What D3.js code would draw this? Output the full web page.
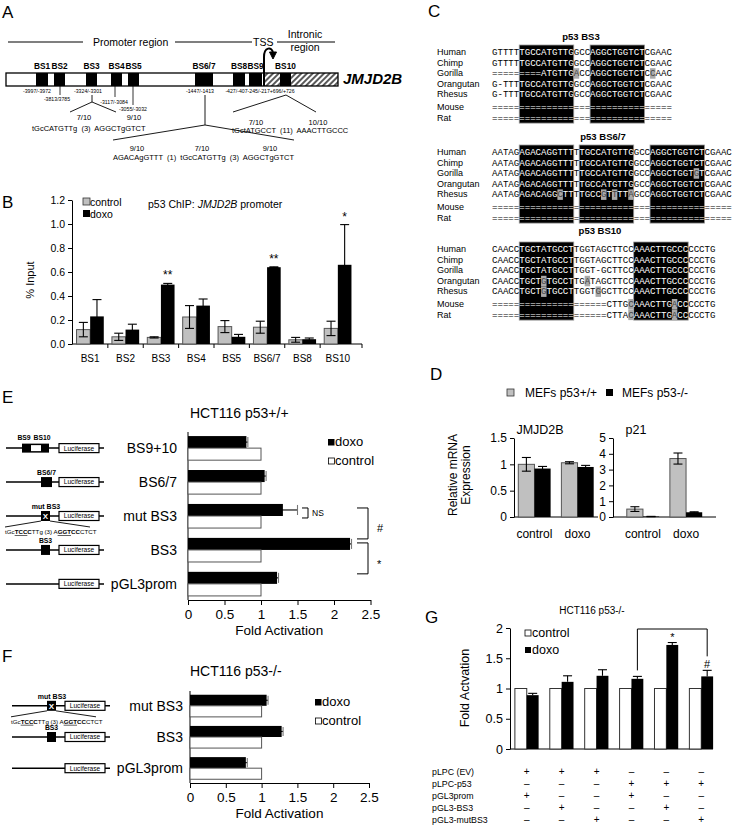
<!DOCTYPE html>
<html><head><meta charset="utf-8">
<script src="https://cdn.jsdelivr.net/npm/d3@7"></script>
<style>body{margin:0;background:#fff}svg{display:block}</style>
</head><body><svg id="fig" width="733" height="826"></svg>
<script>
// ================= DATA =================
// Panel A (schematic)
const siteNames = ["BS1","BS2","BS3","BS4","BS5","BS6/7","BS8","BS9","BS10"];
const siteCoordLabels = ["-3997/-3972","-3813/3785","-3324/-3301","-3117/-3084","-3055/-3032","-1447/-1413","-427/-407-245/-217+696/+726"];
// Panel B
const chipSites = ["BS1","BS2","BS3","BS4","BS5","BS6/7","BS8","BS10"];
const chipControl = [0.12,0.06,0.055,0.225,0.145,0.14,0.035,0.13];
const chipControlErr = [0.06,0.03,0.005,0.095,0.05,0.05,0.02,0.06];
const chipDoxo = [0.23,0.12,0.495,0.32,0.06,0.64,0.04,0.66];
const chipDoxoErr = [0.14,0.045,0.01,0.055,0.02,0.003,0.01,0.335];
const chipStars = ["","","**","","","**","","*"];
const chipTicks = [0,0.2,0.4,0.6,0.8,1.0,1.2];
// Panel C
const species = ["Human","Chimp","Gorilla","Orangutan","Rhesus","Mouse","Rat"];
const bs3Seqs = ["GTTTTTGCCATGTTGGCCAGGCTGGTCTCGAAC","GTTTTTGCCATGTTGGCCAGGCTGGTCTCGAAC","=========ATGTTGACCAGGCTGGTCTCCAAC","G-TTTTGCCATGTTGGCCAGGCTGGTCTCGAAC","G-TTTTGCCATGTTGGCCAGGCTGGTCTCGAAC","=".repeat(33),"=".repeat(33)];
const bs3Boxes = [[5,14],[18,27]];
const bs3Diffs = [[],[],[15,29],[],[],[],[]];
const bs67Seqs = ["AATAGAGACAGGTTTTTGCCATGTTGGCCAGGCTGGTCTCGAAC","AATAGAGACAGGTTTTTGCCATGTTGGCCAGGCTGGTCTCGAAC","AATAGAGACAGGTTTTTGCCATGTTGGCCAGGCTGGTGTCGAAC","AATAGAGACAGGTTTTTGCCATGTTGGCCAGGCTGGTCTCGAAC","AATAGAGACAGGCTTTTGCCGTTTTAGCCAGGCTGGTCTCGAAC","=".repeat(44),"=".repeat(44)];
const bs67Boxes = [[5,14],[16,25],[29,38]];
const bs67Diffs = [[],[],[37],[],[12,20,22,25],[],[]];
const bs10Seqs = ["CAACCTGCTATGCCTTGGTAGCTTCCAAACTTGCCCCCCTG","CAACCTGCTATGCCTTGGTAGCTTCCAAACTTGCCCCCCTG","CAACCTGCTATGCCTTGGT-GCTTCCAAACTTGCCCCCCTG","CAACCTGCTGTGCCTTGATAGCTTCCAAACTTGCCCCCCTG","CAACCTGCTGTGCCTTGGTGGCTTCCAAACTTGCCCCCCTG","=".repeat(21)+"CTTGCAAACTTGACCCCCTG","=".repeat(21)+"CTTACAAACTTGACCCCCTG"];
const bs10Boxes = [[5,14],[26,35]];
const bs10Diffs = [[],[],[],[9,17],[9,19],[25,33],[25,33]];
// Panel D
const mefConditions = ["control","doxo"];
const jmjWT = [1.0,1.03], jmjWTErr = [0.13,0.02];
const jmjKO = [0.92,0.95], jmjKOErr = [0.04,0.03];
const p21WT = [0.5,3.7], p21WTErr = [0.15,0.35];
const p21KO = [0.03,0.3], p21KOErr = [0.01,0.03];
const jmjTicks = [0,0.5,1,1.5], p21Ticks = [0,1,2,3,4,5];
// Panel E
const lucE = ["BS9+10","BS6/7","mut BS3","BS3","pGL3prom"];
const lucEDoxo = [0.8,1.05,1.3,2.22,1.22];
const lucEDoxoErr = [0.02,0.02,0.2,0.02,0.02];
const lucEControl = [1,1,1,1,1];
const foldTicks = [0,0.5,1,1.5,2,2.5];
// Panel F
const lucF = ["mut BS3","BS3","pGL3prom"];
const lucFDoxo = [1.07,1.28,0.78];
const lucFDoxoErr = [0.02,0.02,0.02];
const lucFControl = [1,1,1];
// Panel G
const gGroups = ["g1","g2","g3","g4","g5","g6"];
const gControl = [1,1,1,1,1,1];
const gDoxo = [0.89,1.11,1.21,1.16,1.72,1.2];
const gDoxoErr = [0.03,0.1,0.1,0.04,0.04,0.1];
const gTicks = [0,0.5,1,1.5,2];
const gRows = ["pLPC (EV)","pLPC-p53","pGL3prom","pGL3-BS3","pGL3-mutBS3"];
const gSigns = [["+","+","+","\u2013","\u2013","\u2013"],["\u2013","\u2013","\u2013","+","+","+"],["+","\u2013","\u2013","+","\u2013","\u2013"],["\u2013","+","\u2013","\u2013","+","\u2013"],["\u2013","\u2013","+","\u2013","\u2013","+"]];

// ================= DRAW =================
const FONT = '"Liberation Sans", Arial, sans-serif';
const MONO = '"Liberation Mono", "Courier New", monospace';
const svg = d3.select("#fig").attr("font-family", FONT);
svg.append("rect").attr("width",733).attr("height",826).attr("fill","#fff");

function T(g,x,y,s,o={}){
  const t=g.append("text").attr("x",x).attr("y",y).text(s).attr("font-size",o.size||10).attr("fill",o.fill||"#000");
  if(o.anchor) t.attr("text-anchor",o.anchor);
  if(o.weight) t.attr("font-weight",o.weight);
  if(o.style) t.attr("font-style",o.style);
  if(o.family) t.attr("font-family",o.family);
  if(o.rotate!==undefined) t.attr("transform",`rotate(${o.rotate},${x},${y})`);
  return t;
}
function L(g,x1,y1,x2,y2,w=1,c="#000"){return g.append("line").attr("x1",x1).attr("y1",y1).attr("x2",x2).attr("y2",y2).attr("stroke",c).attr("stroke-width",w);}
function R(g,x,y,w,h,fill,stroke,sw=1){const r=g.append("rect").attr("x",x).attr("y",y).attr("width",w).attr("height",h).attr("fill",fill);if(stroke)r.attr("stroke",stroke).attr("stroke-width",sw);return r;}
function P(g,d,w=1,c="#000",fill="none"){return g.append("path").attr("d",d).attr("stroke",c).attr("stroke-width",w).attr("fill",fill);}
function styleAxis(g,size){g.selectAll("text").attr("font-family",FONT).attr("font-size",size).attr("fill","#000");g.selectAll("line,path").attr("stroke","#000");}

// panel letters
[["A",2,18],["B",2,208],["C",428,17],["D",430,380],["E",2,403],["F",2,662],["G",425,623]].forEach(([s,x,y])=>T(svg,x,y,s,{size:17}));

// ---------- Panel A ----------
const gA = svg.append("g");
const defs = svg.append("defs");
const pat = defs.append("pattern").attr("id","hatch").attr("patternUnits","userSpaceOnUse").attr("width",4).attr("height",4).attr("patternTransform","rotate(45)");
pat.append("rect").attr("width",4).attr("height",4).attr("fill","#fff");
pat.append("line").attr("x1",1).attr("y1",0).attr("x2",1).attr("y2",4).attr("stroke","#000").attr("stroke-width",1.3);
L(gA,8,42,83,42,1.2); T(gA,93,46,"Promoter region",{size:10.5});
L(gA,175,42,252,42,1.2); T(gA,253,46,"TSS",{size:10.5});
L(gA,277,42,335,42,1.2); T(gA,305,38,"Intronic",{size:10.5,anchor:"middle"}); T(gA,305,51,"region",{size:10.5,anchor:"middle"});
const geneY=73, geneH=13;
R(gA,6,geneY,332,geneH,"#fff");
R(gA,264,geneY,74,geneH,"url(#hatch)");
const siteBoxX = [[36,48],[54,65],[86,97],[111,122],[128,139],[195,213],[233,245],[249,262],[280,291]];
siteNames.forEach((n,i)=>{const [a,b]=siteBoxX[i];R(gA,a,geneY,b-a,geneH,"#000");T(gA,(a+b)/2,69,n,{size:8.3,weight:"bold",anchor:"middle"});});
R(gA,6,geneY,332,geneH,"none","#000",1.3);
T(gA,343,84,"JMJD2B",{size:15,weight:"bold",style:"italic"});
// TSS arrow
P(gA,"M264,86 V57 C264,47 272,46 273,53",2);
P(gA,"M269.5,52 L276.5,52 L273,59 Z",1,"#000","#000");
// coordinate labels
const coordPos=[[37,93],[57,101],[88,93],[114,104],[133,111],[200,93],[260,93]];
siteCoordLabels.forEach((s,i)=>T(gA,coordPos[i][0],coordPos[i][1],s,{size:5.2,anchor:"middle"}));
L(gA,60,86,60,95,0.8); L(gA,115,86,115,97,0.8); L(gA,133,86,133,105,0.8);
// trees
const tw=0.9;
L(gA,92,95,92,102,tw); L(gA,92,102,70,112,tw); L(gA,92,102,116,112,tw);
T(gA,84,120,"7/10",{size:7.5,anchor:"middle"}); T(gA,134,120,"9/10",{size:7.5,anchor:"middle"});
T(gA,32,131,"tGcCATGTTg  (3)  AGGCTgGTCT",{size:7.5}).style("white-space","pre");
L(gA,205,95,205,125,tw); L(gA,205,125,113,140,tw); L(gA,205,125,294,140,tw);
T(gA,137,151,"9/10",{size:7.5,anchor:"middle"}); T(gA,202,151,"7/10",{size:7.5,anchor:"middle"}); T(gA,270,151,"9/10",{size:7.5,anchor:"middle"});
T(gA,113,160,"AGACAgGTTT  (1)  tGcCATGTTg  (3)  AGGCTgGTCT",{size:7.5}).style("white-space","pre");
L(gA,286,95,233,112,tw); L(gA,286,95,316,112,tw);
T(gA,256,125,"7/10",{size:7.5,anchor:"middle"}); T(gA,318,125,"10/10",{size:7.5,anchor:"middle"});
T(gA,232,133,"tGctATGCCT  (11)  AAACTTGCCC",{size:7.5}).style("white-space","pre");

// ---------- Panel B ----------
const gB = svg.append("g");
const yB = d3.scaleLinear([0,1.2],[344,200]);
const xB = d3.scaleBand(chipSites,[73,355]).paddingInner(0.23).paddingOuter(0.1);
const sB = d3.scaleBand(["control","doxo"],[0,xB.bandwidth()]);
const ax = gB.append("g").attr("transform","translate(72,0)").call(d3.axisLeft(yB).tickValues(chipTicks).tickFormat(d3.format(".1f")).tickSize(4).tickSizeOuter(0).tickPadding(3));
styleAxis(ax,10.5);
L(gB,72,344,362,344,1);
chipSites.forEach((c,i)=>{
  const bx=xB(c)-xB.step()*xB.paddingInner()/2; if(i>0) L(gB,bx,344,bx,348,1);
});
L(gB,362,344,362,348,1);
chipSites.forEach((c,i)=>{T(gB,xB(c)+xB.bandwidth()/2,362,c,{size:10,anchor:"middle"});});
function vbar(g,x,w,y0,y1,fill,stroke){R(g,x,Math.min(y0,y1),w,Math.abs(y1-y0),fill,stroke,1);}
function verr(g,cx,ylo,yhi,cap){L(g,cx,ylo,cx,yhi,1.1);L(g,cx-cap/2,yhi,cx+cap/2,yhi,1.1);L(g,cx-cap/2,ylo,cx+cap/2,ylo,1.1);}
chipSites.forEach((c,i)=>{
  const x1=xB(c)+sB("control"), x2=xB(c)+sB("doxo"), w=sB.bandwidth();
  vbar(gB,x1,w,yB(0),yB(chipControl[i]),"#c0c0c0","#555");
  vbar(gB,x2,w,yB(0),yB(chipDoxo[i]),"#000",null);
  verr(gB,x1+w/2,yB(chipControl[i]-chipControlErr[i]),yB(chipControl[i]+chipControlErr[i]),9);
  verr(gB,x2+w/2,yB(Math.max(0,chipDoxo[i]-chipDoxoErr[i])),yB(chipDoxo[i]+chipDoxoErr[i]),9);
  if(chipStars[i]) T(gB,x2+w/2,yB(chipDoxo[i]+chipDoxoErr[i])-4,chipStars[i],{size:12,anchor:"middle"});
});
T(gB,34,280,"% Input",{size:11,anchor:"middle",rotate:-90});
R(gB,83,198,7,7,"#c0c0c0","#333",0.8); T(gB,90,206,"control",{size:10.5});
R(gB,83,210,7,7,"#000"); T(gB,90,218,"doxo",{size:10.5});
const tB=T(gB,148,208,"p53 ChIP: ",{size:10.5}).style("white-space","pre");
tB.append("tspan").attr("font-style","italic").text("JMJD2B"); tB.append("tspan").text(" promoter");

// ---------- Panel C ----------
const gC = svg.append("g");
function drawAlign(title,tx,ty,y0,seqs,boxes,diffs){
  const cw=5.45,x0=492,off=[0,10.6,21.2,31.8,42.4,55,65.6];
  T(gC,tx,ty,title,{size:9.5,weight:"bold",anchor:"middle"});
  boxes.forEach(([a,b])=>R(gC,x0+a*cw,y0-10,(b-a+1)*cw,off[6]+12.5,"#000","#999",0.8));
  seqs.forEach((s,r)=>{
    const y=y0+off[r];
    T(gC,437,y,species[r],{size:9});
    for(let i=0;i<s.length;i++){
      const inBox=boxes.some(([a,b])=>i>=a&&i<=b), isDiff=diffs[r].includes(i);
      if(isDiff) R(gC,x0+i*cw,y-8,cw,10.5,"#a9a9a9");
      T(gC,x0+(i+0.5)*cw,y,s[i],{size:9.1,family:MONO,anchor:"middle",fill:isDiff?"#444":(inBox?"#fff":"#000")});
    }
  });
}
drawAlign("p53 BS3",581,40,55,bs3Seqs,bs3Boxes,bs3Diffs);
drawAlign("p53 BS6/7",603,140,155,bs67Seqs,bs67Boxes,bs67Diffs);
drawAlign("p53 BS10",600,234,252,bs10Seqs,bs10Boxes,bs10Diffs);

// ---------- Panel D ----------
const gD = svg.append("g");
R(gD,507,389,7,7,"#c0c0c0","#333",0.8); T(gD,525,397,"MEFs p53+/+",{size:12});
R(gD,606,389,7,7,"#000"); T(gD,622,397,"MEFs p53-/-",{size:12});
function dPlot(x0,xr,yMax,ticks,wt,wtE,ko,koE,title,tx){
  const y=d3.scaleLinear([0,yMax],[517,438]);
  const x=d3.scaleBand(mefConditions,xr).paddingInner(0.25).paddingOuter(xr[0]===514?0.1:0.32);
  const s=d3.scaleBand(["wt","ko"],[0,x.bandwidth()]);
  const a=gD.append("g").attr("transform",`translate(${x0},0)`).call(d3.axisLeft(y).tickValues(ticks).tickFormat(d=>d).tickSize(4).tickSizeOuter(0).tickPadding(3));
  styleAxis(a,12);
  L(gD,x0,517,xr[1],517,1);
  mefConditions.forEach((c,i)=>{
    const x1=x(c)+s("wt"),x2=x(c)+s("ko"),w=s.bandwidth();
    vbar(gD,x1,w,y(0),y(wt[i]),"#c0c0c0","#555");
    vbar(gD,x2,w,y(0),y(ko[i]),"#000",null);
    verr(gD,x1+w/2,y(wt[i]-wtE[i]),y(wt[i]+wtE[i]),9);
    verr(gD,x2+w/2,y(ko[i]-koE[i]),y(ko[i]+koE[i]),9);
    T(gD,x(c)+x.bandwidth()/2,538,c,{size:12,anchor:"middle"});
  });
  T(gD,tx,434,title,{size:12.5,anchor:"middle"});
}
dPlot(514,[514,598],1.5,jmjTicks,jmjWT,jmjWTErr,jmjKO,jmjKOErr,"JMJD2B",540);
dPlot(613,[613,716],5,p21Ticks,p21WT,p21WTErr,p21KO,p21KOErr,"p21",636);
T(gD,457,475,"Relative mRNA",{size:12,anchor:"middle",rotate:-90});
T(gD,470,475,"Expression",{size:12,anchor:"middle",rotate:-90});

// ---------- Panels E & F (horizontal bars) ----------
function construct(g,y,x0,kind){
  L(g,x0,y,x0+98,y,1.5);
  R(g,x0+53,y-4.5,40,9,"#fff","#000",1.2);
  T(g,x0+73,y+2.4,"Luciferase",{size:6.6,anchor:"middle"});
  if(kind==="BS9+10"){R(g,x0+16,y-4.5,27,9,"#000");R(g,x0+25,y-3,10,6,"#fff");T(g,x0+18,y-8,"BS9",{size:6.8,weight:"bold",anchor:"middle"});T(g,x0+36,y-8,"BS10",{size:6.8,weight:"bold",anchor:"middle"});}
  if(kind==="BS6/7"){R(g,x0+35,y-5,11,10,"#000");T(g,x0+40.5,y-7,"BS6/7",{size:6.8,weight:"bold",anchor:"middle"});}
  if(kind==="BS3"){R(g,x0+35,y-5,9,10,"#000");T(g,x0+39.5,y-7,"BS3",{size:6.8,weight:"bold",anchor:"middle"});}
  if(kind==="mut BS3"){
    R(g,x0+35,y-5,9,10,"#000");T(g,x0+39.5,y+3,"X",{size:8,weight:"bold",anchor:"middle",fill:"#fff"});
    T(g,x0+40,y-7,"mut BS3",{size:7,weight:"bold",anchor:"middle"});
    L(g,x0+35,y+5,x0-1,y+11,0.9); L(g,x0+44,y+5,x0+84,y+11,0.9);
    const t=T(g,x0-1,y+18,"tGc",{size:6.2}).style("white-space","pre");
    t.append("tspan").attr("font-weight","bold").attr("text-decoration","underline").text("TCC");
    t.append("tspan").attr("font-weight","bold").text("C");
    t.append("tspan").text("TTg (3) A");
    t.append("tspan").attr("font-weight","bold").attr("text-decoration","underline").text("GGT");
    t.append("tspan").attr("font-weight","bold").text("CC");
    t.append("tspan").text("CTCT");
  }
}
function hPlot(g,cats,doxo,doxoErr,ctrl,xr,yr,title,titleX,titleY,diagX0,legX,legY){
  const x=d3.scaleLinear([0,2.5],xr);
  const y=d3.scaleBand(cats,yr).paddingInner(0.29).paddingOuter(0.12);
  const s=d3.scaleBand(["doxo","control"],[0,y.bandwidth()]);
  L(g,xr[0],yr[0],xr[0],yr[1],1);
  const a=g.append("g").attr("transform",`translate(0,${yr[1]})`).call(d3.axisBottom(x).tickValues(foldTicks).tickFormat(d=>d).tickSize(5).tickSizeOuter(0).tickPadding(4));
  styleAxis(a,13.5);
  cats.forEach((c,i)=>{
    const yd=y(c)+s("doxo"),yc=y(c)+s("control"),h=s.bandwidth();
    R(g,x(0),yd,x(doxo[i])-x(0),h,"#000");
    R(g,x(0),yc,x(ctrl[i])-x(0),h,"#fff","#555",1);
    const cy=yd+h/2, xe=x(doxo[i]+doxoErr[i]);
    L(g,x(doxo[i]-doxoErr[i]),cy,xe,cy,1.1); L(g,xe,cy-h/2+1,xe,cy+h/2-1,1.1,"#777");
    T(g,177+(diagX0-6),y(c)+y.bandwidth()/2+5,c,{size:14,anchor:"end"});
    construct(g,y(c)+y.bandwidth()/2,diagX0,c);
  });
  T(g,titleX,titleY,title,{size:14});
  T(g,(xr[0]+xr[1])/2,yr[1]+35,"Fold Activation",{size:13.5,anchor:"middle"});
  R(g,legX,legY-7,6.5,6.5,"#000"); T(g,legX+7,legY,"doxo",{size:13});
  R(g,legX+0.5,legY+12,6,6,"#fff","#000",0.8); T(g,legX+7,legY+19,"control",{size:13});
  return {x,y,s};
}
const gE = svg.append("g");
const E = hPlot(gE,lucE,lucEDoxo,lucEDoxoErr,lucEControl,[188,370.5],[432,600],"HCT116 p53+/+",190,418,6,328,446);
// E significance brackets
(function(){
  const h=E.s.bandwidth(), c=k=>E.y(k)+E.s("doxo")+h/2;
  const xn=E.x(lucEDoxo[2]+lucEDoxoErr[2])+4.5;
  P(gE,`M${xn},${c("mut BS3")-2} H${xn+6} V${c("mut BS3")+8} H${xn}`,1);
  T(gE,xn+10,c("mut BS3")+6,"NS",{size:8.5});
  P(gE,`M357,${c("mut BS3")-2} H368 V${c("BS3")-5} H357`,1);
  P(gE,`M357,${c("BS3")-1} H368 V${c("pGL3prom")-4} H357`,1);
  T(gE,377,(c("mut BS3")+c("BS3"))/2+5,"#",{size:11});
  T(gE,377,(c("BS3")+c("pGL3prom"))/2+7,"*",{size:11});
})();
const gF = svg.append("g");
hPlot(gF,lucF,lucFDoxo,lucFDoxoErr,lucFControl,[190,369],[691,783],"HCT116 p53-/-",190,676,12,315,706);

// ---------- Panel G ----------
const gG = svg.append("g");
const yG = d3.scaleLinear([0,2],[749,628]);
const xG = d3.scaleBand(gGroups,[510,718]).paddingInner(0.32).paddingOuter(0.14);
const sG = d3.scaleBand(["control","doxo"],[0,xG.bandwidth()]);
const aG = gG.append("g").attr("transform","translate(510,0)").call(d3.axisLeft(yG).tickValues(gTicks).tickFormat(d=>d).tickSize(4).tickSizeOuter(0).tickPadding(3));
styleAxis(aG,12.5);
L(gG,510,749,713,749,1);
gGroups.forEach((g,i)=>{
  const x1=xG(g)+sG("control"),x2=xG(g)+sG("doxo"),w=sG.bandwidth();
  vbar(gG,x1,w,yG(0),yG(gControl[i]),"#fff","#333");
  vbar(gG,x2,w,yG(0),yG(gDoxo[i]),"#000",null);
  const cx=x2+w/2; L(gG,cx,yG(gDoxo[i]),cx,yG(gDoxo[i]+gDoxoErr[i]),1.1); L(gG,cx-4.5,yG(gDoxo[i]+gDoxoErr[i]),cx+4.5,yG(gDoxo[i]+gDoxoErr[i]),1.1);
  gSigns.forEach((row,r)=>T(gG,xG(g)+xG.bandwidth()/2,775+r*12,row[i],{size:10,anchor:"middle"}));
});
gRows.forEach((r,k)=>T(gG,432,775+k*12,r,{size:8.8}));
T(gG,592,614,"HCT116 p53-/-",{size:10,anchor:"middle"});
T(gG,469,688,"Fold Actvation",{size:12.5,anchor:"middle",rotate:-90});
R(gG,525,630,6,6,"#fff","#000",0.8); T(gG,532,637,"control",{size:12.5});
R(gG,525,647,6,6,"#000"); T(gG,532,654,"doxo",{size:12.5});
(function(){
  const cx=k=>xG(gGroups[k])+sG("doxo")+sG.bandwidth()/2;
  P(gG,`M${cx(3)},${yG(gDoxo[3]+gDoxoErr[3])-6} V629 H${cx(5)} V${yG(gDoxo[5]+gDoxoErr[5])-14}`,1);
  T(gG,(cx(3)+cx(5))/2,641,"*",{size:11,anchor:"middle"});
  T(gG,cx(5),668,"#",{size:11,anchor:"middle"});
})();
</script></body></html>
